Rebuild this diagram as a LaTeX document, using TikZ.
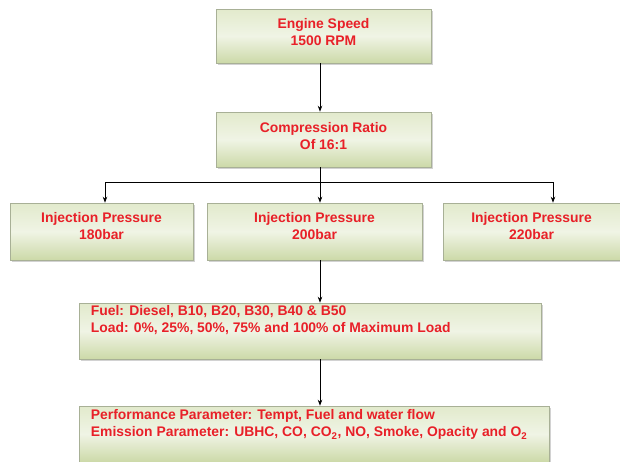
\documentclass[tikz,border=0pt]{standalone}
\usepackage{fontspec}
\setmainfont{Liberation Sans}
\usetikzlibrary{arrows.meta,shadows}
\definecolor{boxtop}{RGB}{226,234,204}
\definecolor{boxmid}{RGB}{240,244,229}
\definecolor{boxbot}{RGB}{204,217,168}
\definecolor{boxline}{RGB}{168,176,150}
\definecolor{textred}{RGB}{232,32,40}

\begin{document}
\begin{tikzpicture}[x=1pt, y=-1pt,
    box/.style={draw=boxline, line width=0.6pt, rectangle, top color=boxtop, bottom color=boxbot, middle color=boxmid,
        drop shadow={shadow xshift=1.5pt, shadow yshift=-1.5pt, fill=black!35}},
    boxtext/.style={text=textred, font=\bfseries\fontsize{13.9}{17}\selectfont, inner sep=0pt},
    arr/.style={-{Stealth[length=6pt,width=4.5pt]}, line width=0.8pt}]
    \useasboundingbox (0,0) rectangle (620,461);

    % Engine speed
    \node[box, minimum width=215pt, minimum height=54pt] (speed) at (323.5, 36)
        [label={[boxtext, align=center, yshift=4pt]center:{Engine Speed\\1500 RPM}}] {};

    % Compression ratio
    \node[box, minimum width=215pt, minimum height=55pt] (ratio) at (323.5, 139.5)
        [label={[boxtext, align=center, yshift=3.5pt]center:{Compression Ratio\\Of 16:1}}] {};

    % Injection pressures
    \node[box, minimum width=183pt, minimum height=57pt] (ip180) at (101.5, 231.5)
        [label={[boxtext, align=center, yshift=5pt]center:{Injection Pressure\\180bar}}] {};
    \node[box, minimum width=215pt, minimum height=57pt] (ip200) at (314.5, 231.5)
        [label={[boxtext, align=center, yshift=5pt]center:{Injection Pressure\\200bar}}] {};
    \node[box, minimum width=177pt, minimum height=57pt] (ip220) at (531.5, 231.5)
        [label={[boxtext, align=center, yshift=5pt]center:{Injection Pressure\\220bar}}] {};

    % Fuel and load
    \node[box, minimum width=462pt, minimum height=56pt] (fuel) at (310, 331)
        [label={[boxtext, align=left, anchor=north west, xshift=12pt, yshift=-3pt]north west:{Fuel: Diesel, B10, B20, B30, B40 \& B50\\Load: 0\%, 25\%, 50\%, 75\% and 100\% of Maximum Load}}] {};

    % Parameters
    \node[box, minimum width=470pt, minimum height=56pt] (param) at (314, 434)
        [label={[boxtext, align=left, anchor=north west, xshift=12pt, yshift=-4pt]north west:{Performance Parameter: Tempt, Fuel and water flow\\Emission Parameter: UBHC, CO, CO\textsubscript{2}, NO, Smoke, Opacity and O\textsubscript{2}}}] {};

    % Branch points
    \coordinate (split) at (320, 182);
    \coordinate (splitl) at (105, 182);
    \coordinate (splitr) at (553, 182);

    % Arrows
    \draw[arr] (speed.south -| split) -- (ratio.north -| split);
    \draw[line width=0.8pt] (ratio.south -| split) -- (split);
    \draw[line width=0.8pt] (splitl) -- (splitr);
    \draw[arr] (splitl) -- (ip180.north -| splitl);
    \draw[arr] (split) -- (ip200.north -| split);
    \draw[arr] (splitr) -- (ip220.north -| splitr);
    \draw[arr] (ip200.south -| split) -- (fuel.north -| split);
    \draw[arr] (fuel.south -| split) -- (param.north -| split);

\end{tikzpicture}
\end{document}
